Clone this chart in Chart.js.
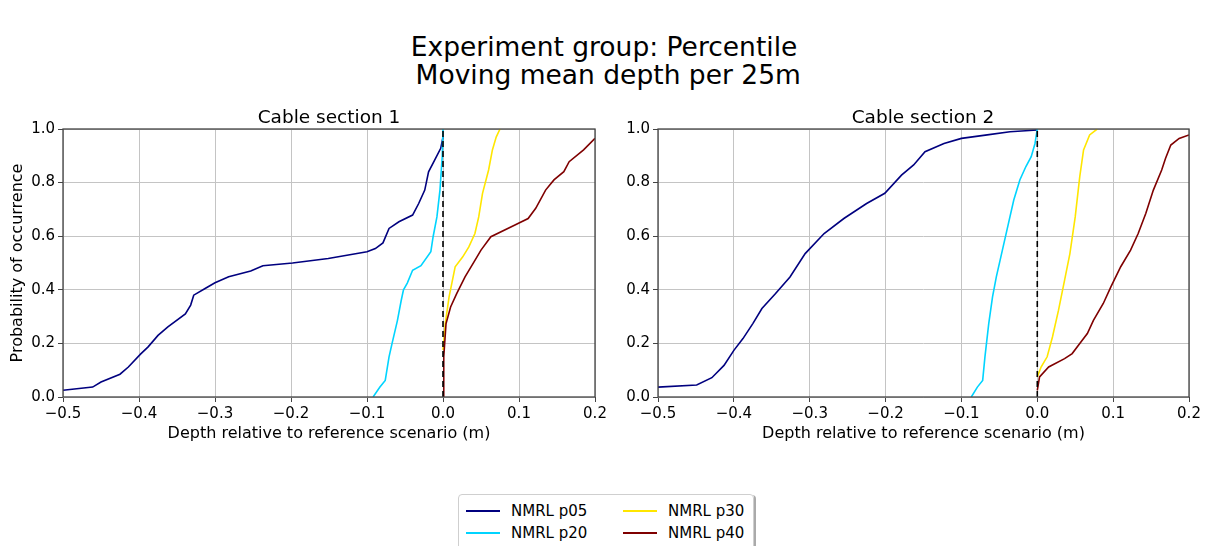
<!DOCTYPE html>
<html lang="en">
<head>
  <meta charset="UTF-8">
  <title>Experiment group: Percentile</title>
  <script src="https://cdn.jsdelivr.net/npm/chart.js"></script>
  <style>
    body {
      margin: 0;
      width: 1208px;
      height: 546px;
      position: relative;
      overflow: hidden;
      background: #fff;
      font-family: "DejaVu Sans", sans-serif;
      color: #000;
    }
    .suptitle {
      position: absolute;
      left: 0;
      width: 1208px;
      text-align: center;
      font-size: 26.5px;
      line-height: 28px;
      white-space: pre;
    }
    .subtitle {
      position: absolute;
      top: 106px;
      font-size: 18.5px;
      line-height: 22px;
      text-align: center;
      width: 300px;
      z-index: 2;
    }
    canvas {
      position: absolute;
    }
    .legend {
      position: absolute;
      left: 458px;
      top: 494px;
      width: 294px;
      height: 70px;
      border: 1px solid #cfcfcf;
      border-radius: 4px;
      box-shadow: 2px 1px 0 #aaa;
      font-size: 15px;
    }
    .item {
      position: absolute;
      height: 18px;
      line-height: 18px;
    }
    .item span.swatch {
      position: absolute;
      left: 0;
      top: 8px;
      width: 34px;
      height: 2px;
    }
    .item span.label {
      position: absolute;
      left: 45px;
      white-space: nowrap;
    }
  </style>
</head>
<body>
  <div class="suptitle" style="top: 33px;">Experiment group: Percentile</div>
  <div class="suptitle" style="top: 61px;"> Moving mean depth per 25m</div>

  <div class="subtitle" style="left: 179px;">Cable section 1</div>
  <div class="subtitle" style="left: 773px;">Cable section 2</div>

  <canvas id="chart1" width="610" height="342" style="left: 0; top: 105px;"></canvas>
  <canvas id="chart2" width="594" height="342" style="left: 610px; top: 105px;"></canvas>

  <div class="legend" id="legend"></div>

  <script>
    const seriesNames = ['NMRL p05', 'NMRL p20', 'NMRL p30', 'NMRL p40'];
    const seriesColors = ['#00007f', '#00d4ff', '#ffe600', '#7f0000'];
    const xTicks = [-0.5, -0.4, -0.3, -0.2, -0.1, 0.0, 0.1, 0.2];
    const yTicks = [0.0, 0.2, 0.4, 0.6, 0.8, 1.0];

    // cable section 1
    const s1p05X = [-0.5, -0.461, -0.45, -0.425, -0.414, -0.398, -0.388, -0.375, -0.362, -0.339, -0.332, -0.328, -0.313, -0.3, -0.282, -0.253, -0.237, -0.198, -0.151, -0.1, -0.089, -0.079, -0.071, -0.058, -0.04, -0.032, -0.024, -0.019, -0.011, -0.003, 0.0];
    const s1p05Y = [0.025, 0.037, 0.056, 0.085, 0.112, 0.16, 0.187, 0.23, 0.262, 0.31, 0.343, 0.38, 0.405, 0.426, 0.449, 0.47, 0.49, 0.5, 0.517, 0.542, 0.554, 0.575, 0.629, 0.654, 0.679, 0.722, 0.772, 0.84, 0.884, 0.928, 0.97];
    const s1p20X = [-0.092, -0.083, -0.076, -0.071, -0.067, -0.06, -0.055, -0.052, -0.047, -0.04, -0.029, -0.016, -0.013, -0.008, -0.004, -0.001, 0.0];
    const s1p20Y = [0.0, 0.037, 0.062, 0.15, 0.2, 0.285, 0.36, 0.4, 0.425, 0.473, 0.49, 0.542, 0.598, 0.672, 0.772, 0.897, 1.0];
    const s1p30X = [0.0, 0.003, 0.008, 0.016, 0.026, 0.034, 0.042, 0.047, 0.052, 0.06, 0.065, 0.07, 0.075];
    const s1p30Y = [0.175, 0.274, 0.374, 0.486, 0.523, 0.56, 0.61, 0.672, 0.76, 0.847, 0.922, 0.97, 1.0];
    const s1p40X = [0.0, 0.001, 0.004, 0.01, 0.018, 0.029, 0.042, 0.05, 0.063, 0.094, 0.112, 0.122, 0.135, 0.146, 0.159, 0.166, 0.185, 0.2];
    const s1p40Y = [0.0, 0.15, 0.274, 0.336, 0.386, 0.448, 0.51, 0.548, 0.598, 0.641, 0.666, 0.704, 0.772, 0.81, 0.841, 0.878, 0.922, 0.965];

    // cable section 2
    const s2p05X = [-0.5, -0.449, -0.429, -0.413, -0.4, -0.388, -0.375, -0.363, -0.345, -0.326, -0.306, -0.281, -0.255, -0.225, -0.201, -0.179, -0.163, -0.148, -0.123, -0.1, -0.066, -0.036, 0.0];
    const s2p05Y = [0.037, 0.045, 0.072, 0.118, 0.174, 0.218, 0.274, 0.33, 0.386, 0.448, 0.535, 0.61, 0.666, 0.722, 0.76, 0.828, 0.866, 0.915, 0.946, 0.965, 0.978, 0.99, 0.996];
    const s2p20X = [-0.087, -0.079, -0.072, -0.069, -0.064, -0.059, -0.054, -0.046, -0.038, -0.031, -0.023, -0.015, -0.008, -0.003, 0.0];
    const s2p20Y = [0.0, 0.037, 0.062, 0.15, 0.274, 0.374, 0.448, 0.548, 0.648, 0.735, 0.81, 0.86, 0.897, 0.946, 1.0];
    const s2p30X = [0.0, 0.005, 0.013, 0.02, 0.028, 0.036, 0.043, 0.05, 0.056, 0.061, 0.069, 0.079];
    const s2p30Y = [0.075, 0.112, 0.15, 0.224, 0.324, 0.436, 0.535, 0.672, 0.822, 0.922, 0.978, 1.0];
    const s2p40X = [0.0, 0.003, 0.015, 0.036, 0.046, 0.056, 0.066, 0.074, 0.087, 0.097, 0.11, 0.123, 0.133, 0.143, 0.153, 0.164, 0.169, 0.176, 0.187, 0.2];
    const s2p40Y = [0.025, 0.075, 0.112, 0.143, 0.162, 0.2, 0.237, 0.286, 0.349, 0.411, 0.486, 0.548, 0.61, 0.685, 0.772, 0.847, 0.89, 0.94, 0.965, 0.978];

    const refLineX = [0.0, 0.0];
    const refLineY = [0.0, 1.0];

    Chart.defaults.font.family = "'DejaVu Sans', sans-serif";
    Chart.defaults.color = '#000';

    function pts(xs, ys) {
      return xs.map((x, i) => ({ x: x, y: ys[i] }));
    }

    const frameBox = {
      id: 'frameBox',
      afterDatasetsDraw(chart) {
        const a = chart.chartArea;
        const ctx = chart.ctx;
        ctx.save();
        ctx.strokeStyle = '#444';
        ctx.lineWidth = 1.3;
        ctx.strokeRect(a.left, a.top, a.right - a.left, a.bottom - a.top);
        ctx.restore();
      }
    };

    function fmt(v) {
      return (v < -1e-9 ? '\u2212' : '') + Math.abs(v).toFixed(1);
    }

    function makeChart(id, series, yAxisWidth, showYTitle) {
      const datasets = series.map((s, i) => ({
        label: seriesNames[i],
        data: pts(s[0], s[1]),
        borderColor: seriesColors[i],
        borderWidth: 1.6,
        showLine: true,
        pointRadius: 0,
        tension: 0,
        order: 5 - i
      }));
      datasets.push({
        label: 'reference',
        data: pts(refLineX, refLineY),
        borderColor: '#000',
        borderWidth: 1.6,
        borderDash: [6, 4],
        showLine: true,
        pointRadius: 0,
        order: 0
      });

      return new Chart(document.getElementById(id), {
        type: 'scatter',
        data: { datasets: datasets },
        options: {
          responsive: false,
          animation: false,
          devicePixelRatio: 1,
          layout: { padding: { top: 24, right: 15, bottom: 0, left: 0 } },
          plugins: {
            legend: { display: false },
            tooltip: { enabled: false }
          },
          scales: {
            x: {
              type: 'linear',
              min: -0.5,
              max: 0.2,
              afterBuildTicks: scale => { scale.ticks = xTicks.map(v => ({ value: v })); },
              afterFit: scale => { scale.height = 50; },
              grid: { color: '#c4c4c4', lineWidth: 1, tickColor: '#444', tickLength: 5 },
              border: { display: false },
              ticks: { font: { size: 15 }, padding: 3, maxRotation: 0, callback: v => fmt(v) },
              title: {
                display: true,
                text: 'Depth relative to reference scenario (m)',
                font: { size: 16 },
                padding: { top: 0, bottom: 4 }
              }
            },
            y: {
              type: 'linear',
              min: 0,
              max: 1,
              afterBuildTicks: scale => { scale.ticks = yTicks.map(v => ({ value: v })); },
              afterFit: scale => { scale.width = yAxisWidth; },
              grid: { color: '#c4c4c4', lineWidth: 1, tickColor: '#444', tickLength: 5 },
              border: { display: false },
              ticks: { font: { size: 15 }, padding: 3, callback: v => fmt(v) },
              title: {
                display: showYTitle,
                text: 'Probability of occurrence',
                font: { size: 16 },
                padding: { top: 8, bottom: 0 }
              }
            }
          }
        },
        plugins: [frameBox]
      });
    }

    makeChart('chart1', [[s1p05X, s1p05Y], [s1p20X, s1p20Y], [s1p30X, s1p30Y], [s1p40X, s1p40Y]], 63, true);
    makeChart('chart2', [[s2p05X, s2p05Y], [s2p20X, s2p20Y], [s2p30X, s2p30Y], [s2p40X, s2p40Y]], 48, false);

    // legend, two columns like the original
    const legendSlots = [[7, 7], [7, 29], [164, 7], [164, 29]];
    const legend = document.getElementById('legend');
    seriesNames.forEach((name, i) => {
      const item = document.createElement('div');
      item.className = 'item';
      item.style.left = legendSlots[i][0] + 'px';
      item.style.top = legendSlots[i][1] + 'px';
      item.innerHTML = '<span class="swatch" style="background:' + seriesColors[i] + '"></span><span class="label">' + name + '</span>';
      legend.appendChild(item);
    });
  </script>
</body>
</html>
